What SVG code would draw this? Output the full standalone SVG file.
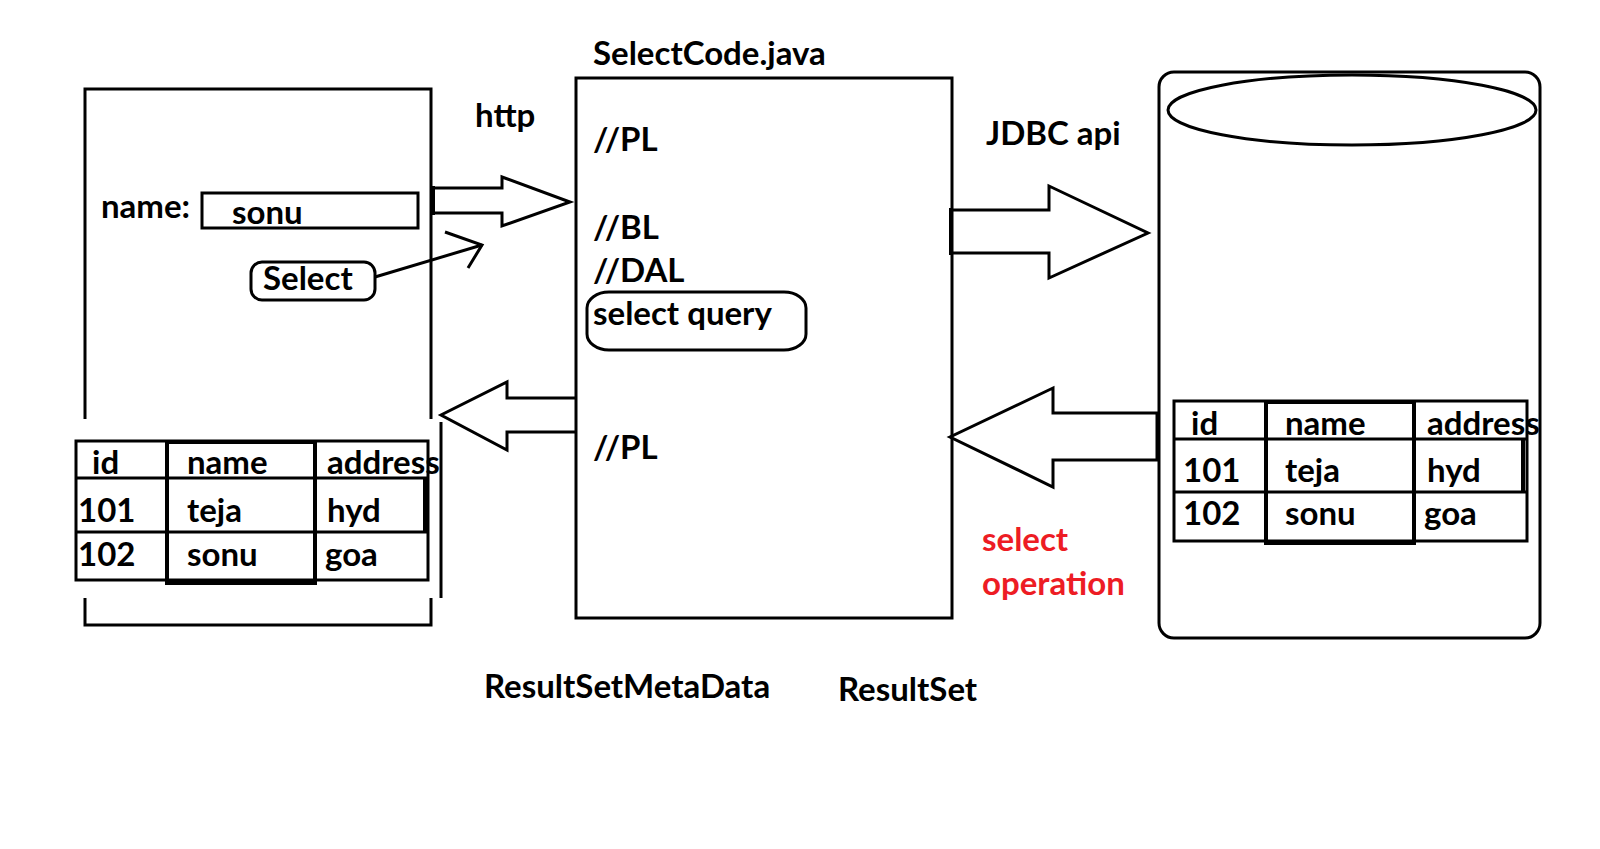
<svg xmlns="http://www.w3.org/2000/svg" width="1600" height="849" viewBox="0 0 1600 849">
<style>
  .ln { fill: none; stroke: #000; stroke-width: 3; stroke-linejoin: miter; }
  .bx { fill: none; stroke: #000; stroke-width: 3; }
  .thk { fill: none; stroke: #000; stroke-width: 4; }
  .t { font-family: Lato, "Liberation Sans", sans-serif; font-weight: bold; font-size: 33px; fill: #000; }
  .red { fill: #ED1C24; }
</style>
<rect width="1600" height="849" fill="#fff"/>

<g id="browser">
  <polyline class="ln" points="85,419 85,89 431,89 431,419"/>
  <line class="ln" x1="441" y1="422" x2="441" y2="598"/>
  <polyline class="ln" points="85,598 85,625 431,625 431,598"/>
  <text class="t" x="101" y="218">name:</text>
  <rect class="bx" x="202" y="193" width="216" height="35"/>
  <text class="t" x="232" y="224">sonu</text>
</g>

<g id="select-button">
  <rect class="bx" x="251" y="262" width="124" height="38" rx="11"/>
  <text class="t" x="263" y="290">Select</text>
</g>

<g id="browser-table">
  <rect class="bx" x="76" y="441" width="352" height="139"/>
  <rect class="thk" x="167" y="442" width="148" height="141"/>
  <line class="ln" x1="76" y1="478" x2="428" y2="478"/>
  <line class="ln" x1="76" y1="532" x2="428" y2="532"/>
  <line class="thk" x1="425" y1="478" x2="425" y2="532"/>
  <text class="t" x="92" y="474">id</text>
  <text class="t" x="187" y="474">name</text>
  <text class="t" x="327" y="474">address</text>
  <text class="t" x="78" y="522">101</text>
  <text class="t" x="187" y="522">teja</text>
  <text class="t" x="327" y="522">hyd</text>
  <text class="t" x="78" y="566">102</text>
  <text class="t" x="187" y="566">sonu</text>
  <text class="t" x="325" y="566">goa</text>
</g>

<g id="selectcode">
  <text class="t" x="593" y="65">SelectCode.java</text>
  <rect class="bx" x="576" y="78" width="376" height="540"/>
  <text class="t" x="593" y="151">/<tspan dx="4">/</tspan>PL</text>
  <text class="t" x="593" y="239">/<tspan dx="4">/</tspan>BL</text>
  <text class="t" x="593" y="282">/<tspan dx="4">/</tspan>DAL</text>
  <rect class="bx" x="587" y="292" width="219" height="58" rx="22" ry="16"/>
  <text class="t" x="593" y="325">select query</text>
  <text class="t" x="593" y="459">/<tspan dx="4">/</tspan>PL</text>
</g>

<g id="database">
  <rect class="bx" x="1159" y="72" width="381" height="566" rx="15"/>
  <ellipse class="bx" cx="1352" cy="110" rx="184" ry="35"/>
</g>

<g id="db-table">
  <rect class="bx" x="1174" y="401" width="353" height="140"/>
  <rect class="thk" x="1266" y="402" width="148" height="141"/>
  <line class="ln" x1="1174" y1="439" x2="1527" y2="439"/>
  <line class="ln" x1="1174" y1="492" x2="1527" y2="492"/>
  <line class="thk" x1="1523" y1="439" x2="1523" y2="492"/>
  <text class="t" x="1191" y="435">id</text>
  <text class="t" x="1285" y="435">name</text>
  <text class="t" x="1427" y="435">address</text>
  <text class="t" x="1183" y="482">101</text>
  <text class="t" x="1285" y="482">teja</text>
  <text class="t" x="1427" y="482">hyd</text>
  <text class="t" x="1183" y="525">102</text>
  <text class="t" x="1285" y="525">sonu</text>
  <text class="t" x="1424" y="525">goa</text>
</g>

<g id="connectors">
  <polygon class="ln" points="433,188 502,188 502,177 570,202 502,226 502,213 433,213"/>
  <line class="thk" x1="433" y1="186" x2="433" y2="215"/>
  <text class="t" x="475" y="127">http</text>
  <polyline class="ln" points="375,277 482,245"/>
  <polyline class="ln" points="445,232 482,245 468,268"/>
  <polyline class="ln" points="577,398 507,398 507,382 441,415 507,450 507,432 577,432"/>
  <polygon class="ln" points="951,210 1049,210 1049,186 1148,233 1049,278 1049,253 951,253"/>
  <line class="thk" x1="951" y1="208" x2="951" y2="255"/>
  <text class="t" x="986" y="145">JDBC api</text>
  <polygon class="ln" points="1157,413 1053,413 1053,388 950,437 1053,487 1053,460 1157,460"/>
  <text class="t red" x="982" y="551">select</text>
  <text class="t red" x="982" y="595">operation</text>
  <text class="t" x="484" y="698">ResultSetMetaData</text>
  <text class="t" x="838" y="701">ResultSet</text>
</g>
</svg>
